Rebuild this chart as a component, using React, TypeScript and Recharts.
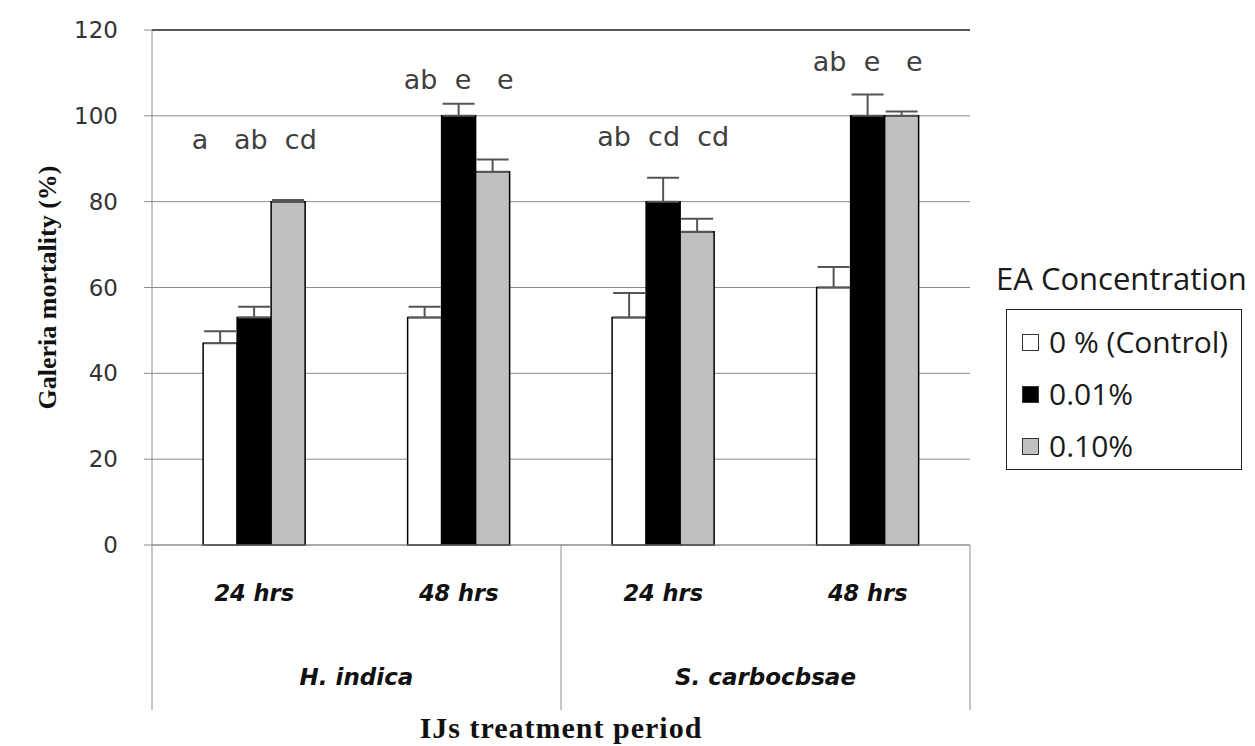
import {
  Bar,
  CartesianGrid,
  ComposedChart,
  ErrorBar,
  LabelList,
  Legend,
  Line,
  ReferenceLine,
  XAxis,
  YAxis,
} from 'recharts'

const periods = ['24 hrs', '48 hrs', '24 hrs', '48 hrs']
const species = ['H. indica', 'S. carbocbsae']
const seriesNames = ['0 % (Control)', '0.01%', '0.10%']
const control = [47, 53, 53, 60]
const conc001 = [53, 100, 80, 100]
const conc010 = [80, 87, 73, 100]
const controlErr = [2.8, 2.5, 5.7, 4.8]
const conc001Err = [2.5, 2.8, 5.6, 5]
const conc010Err = [0.4, 2.8, 3, 1]
const letters = ['a   ab  cd', 'ab  e   e', 'ab  cd  cd', 'ab  e   e']
const letterHeights = [92.3, 106.3, 93, 110.5]
const yTicks = [0, 20, 40, 60, 80, 100, 120]

const fills = ['#ffffff', '#000000', '#c0c0c0']
const GRID = '#8c8c8c'
const FRAME = '#333333'

const data = periods.map((period, i) => ({
  period,
  control: control[i],
  conc001: conc001[i],
  conc010: conc010[i],
  controlErr: [0, controlErr[i]],
  conc001Err: [0, conc001Err[i]],
  conc010Err: [0, conc010Err[i]],
  letters: letters[i],
  letterY: letterHeights[i],
}))

const tickFont = {
  fontFamily: "'DejaVu Sans', sans-serif",
  fontWeight: 'bold' as const,
  fontStyle: 'italic' as const,
  fill: '#111',
}

// two-row category axis: period under each group, species under each pair, separators between species
function PeriodTick({ x, y, payload, index, width, visibleTicksCount }: any) {
  const band = width / visibleTicksCount
  const sepBottom = y + 165
  return (
    <g>
      <text x={x} y={y + 48} textAnchor="middle" dominantBaseline="central" fontSize={22.5} {...tickFont}>
        {payload.value}
      </text>
      {index % 2 === 0 && (
        <line x1={x - band / 2} x2={x - band / 2} y1={y} y2={sepBottom} stroke={GRID} strokeWidth={1} />
      )}
      {index === visibleTicksCount - 1 && (
        <line x1={x + band / 2} x2={x + band / 2} y1={y} y2={sepBottom} stroke={GRID} strokeWidth={1} />
      )}
      {index % 2 === 1 && (
        <text x={x - band / 2} y={y + 132} textAnchor="middle" dominantBaseline="central" fontSize={23} {...tickFont}>
          {species[(index - 1) / 2]}
        </text>
      )}
    </g>
  )
}

function LetterLabel({ x, y, value }: any) {
  return (
    <text
      x={x}
      y={y}
      textAnchor="middle"
      fontFamily="'DejaVu Sans', sans-serif"
      fontSize={27}
      fill="#404040"
      style={{ whiteSpace: 'pre' }}
    >
      {value}
    </text>
  )
}

function LegendBox() {
  return (
    <div style={{ position: 'relative', width: 262, height: 230, fontFamily: "'Open Sans', sans-serif", color: '#1a1a1a' }}>
      <div style={{ position: 'absolute', left: 3, top: 0, fontSize: 31, lineHeight: '36px', whiteSpace: 'nowrap' }}>
        EA Concentration
      </div>
      <div
        style={{
          position: 'absolute',
          left: 13,
          top: 49,
          width: 236,
          height: 161,
          border: '1.5px solid #222',
          boxSizing: 'border-box',
          paddingTop: 6,
        }}
      >
        {seriesNames.map((name, i) => (
          <div key={name} style={{ display: 'flex', alignItems: 'center', height: 52, paddingLeft: 15 }}>
            <span
              style={{
                width: 17,
                height: 17,
                background: fills[i],
                border: '1.5px solid #333',
                boxSizing: 'border-box',
                marginRight: 10,
                flexShrink: 0,
              }}
            />
            <span style={{ fontSize: 30, lineHeight: '36px', whiteSpace: 'nowrap' }}>{name}</span>
          </div>
        ))}
      </div>
    </div>
  )
}

export default function App() {
  return (
    <div style={{ marginLeft: -8, marginTop: -8, width: 1255, height: 746, background: '#fff' }}>
      <ComposedChart
        width={1255}
        height={746}
        data={data}
        margin={{ top: 30, right: 285, left: 62, bottom: 0 }}
        barCategoryGap="25%"
        barGap={0}
      >
        <CartesianGrid vertical={false} stroke={GRID} strokeWidth={1} />
        <XAxis
          dataKey="period"
          height={201}
          tickSize={0}
          tickMargin={0}
          tick={<PeriodTick />}
          axisLine={{ stroke: GRID, strokeWidth: 1 }}
          interval={0}
          label={{
            content: (p: any) => {
              const vb = p.viewBox
              return (
                <text
                  x={vb.x + vb.width / 2}
                  y={738}
                  textAnchor="middle"
                  fontFamily="'Liberation Serif', serif"
                  fontWeight="bold"
                  fontSize={30}
                  letterSpacing={1}
                  fill="#111"
                >
                  IJs treatment period
                </text>
              )
            },
          }}
        />
        <YAxis
          domain={[0, 120]}
          ticks={yTicks}
          width={90}
          interval={0}
          tickSize={8}
          tickMargin={26}
          tick={{ fontFamily: "'DejaVu Sans', sans-serif", fontSize: 23, fill: '#333' }}
          axisLine={{ stroke: GRID, strokeWidth: 1 }}
          tickLine={{ stroke: GRID, strokeWidth: 1 }}
          label={{
            content: (p: any) => {
              const vb = p.viewBox
              const cy = vb.y + vb.height / 2
              return (
                <text
                  transform={`translate(47,${cy}) rotate(-90)`}
                  textAnchor="middle"
                  dominantBaseline="central"
                  fontFamily="'Liberation Serif', serif"
                  fontWeight="bold"
                  fontSize={26}
                  fill="#111"
                >
                  Galeria mortality (%)
                </text>
              )
            },
          }}
        />
        <YAxis
          yAxisId="frame"
          orientation="right"
          width={0}
          tick={false}
          tickLine={false}
          axisLine={{ stroke: FRAME, strokeWidth: 1.5 }}
        />
        <ReferenceLine y={120} stroke={FRAME} strokeWidth={1.5} />
        <Bar dataKey="control" name={seriesNames[0]} fill={fills[0]} stroke="#000" strokeWidth={1.5} isAnimationActive={false}>
          <ErrorBar dataKey="controlErr" width={16} stroke="#555" strokeWidth={2} direction="y" isAnimationActive={false} />
        </Bar>
        <Bar dataKey="conc001" name={seriesNames[1]} fill={fills[1]} stroke="#000" strokeWidth={1.5} isAnimationActive={false}>
          <ErrorBar dataKey="conc001Err" width={16} stroke="#555" strokeWidth={2} direction="y" isAnimationActive={false} />
        </Bar>
        <Bar dataKey="conc010" name={seriesNames[2]} fill={fills[2]} stroke="#000" strokeWidth={1.5} isAnimationActive={false}>
          <ErrorBar dataKey="conc010Err" width={16} stroke="#555" strokeWidth={2} direction="y" isAnimationActive={false} />
        </Bar>
        <Line
          dataKey="letterY"
          stroke="none"
          dot={false}
          activeDot={false}
          legendType="none"
          isAnimationActive={false}
        >
          <LabelList dataKey="letters" content={<LetterLabel />} />
        </Line>
        <Legend
          layout="horizontal"
          align="center"
          verticalAlign="middle"
          wrapperStyle={{ left: 993, top: 260, width: 262 }}
          content={() => <LegendBox />}
        />
      </ComposedChart>
    </div>
  )
}
